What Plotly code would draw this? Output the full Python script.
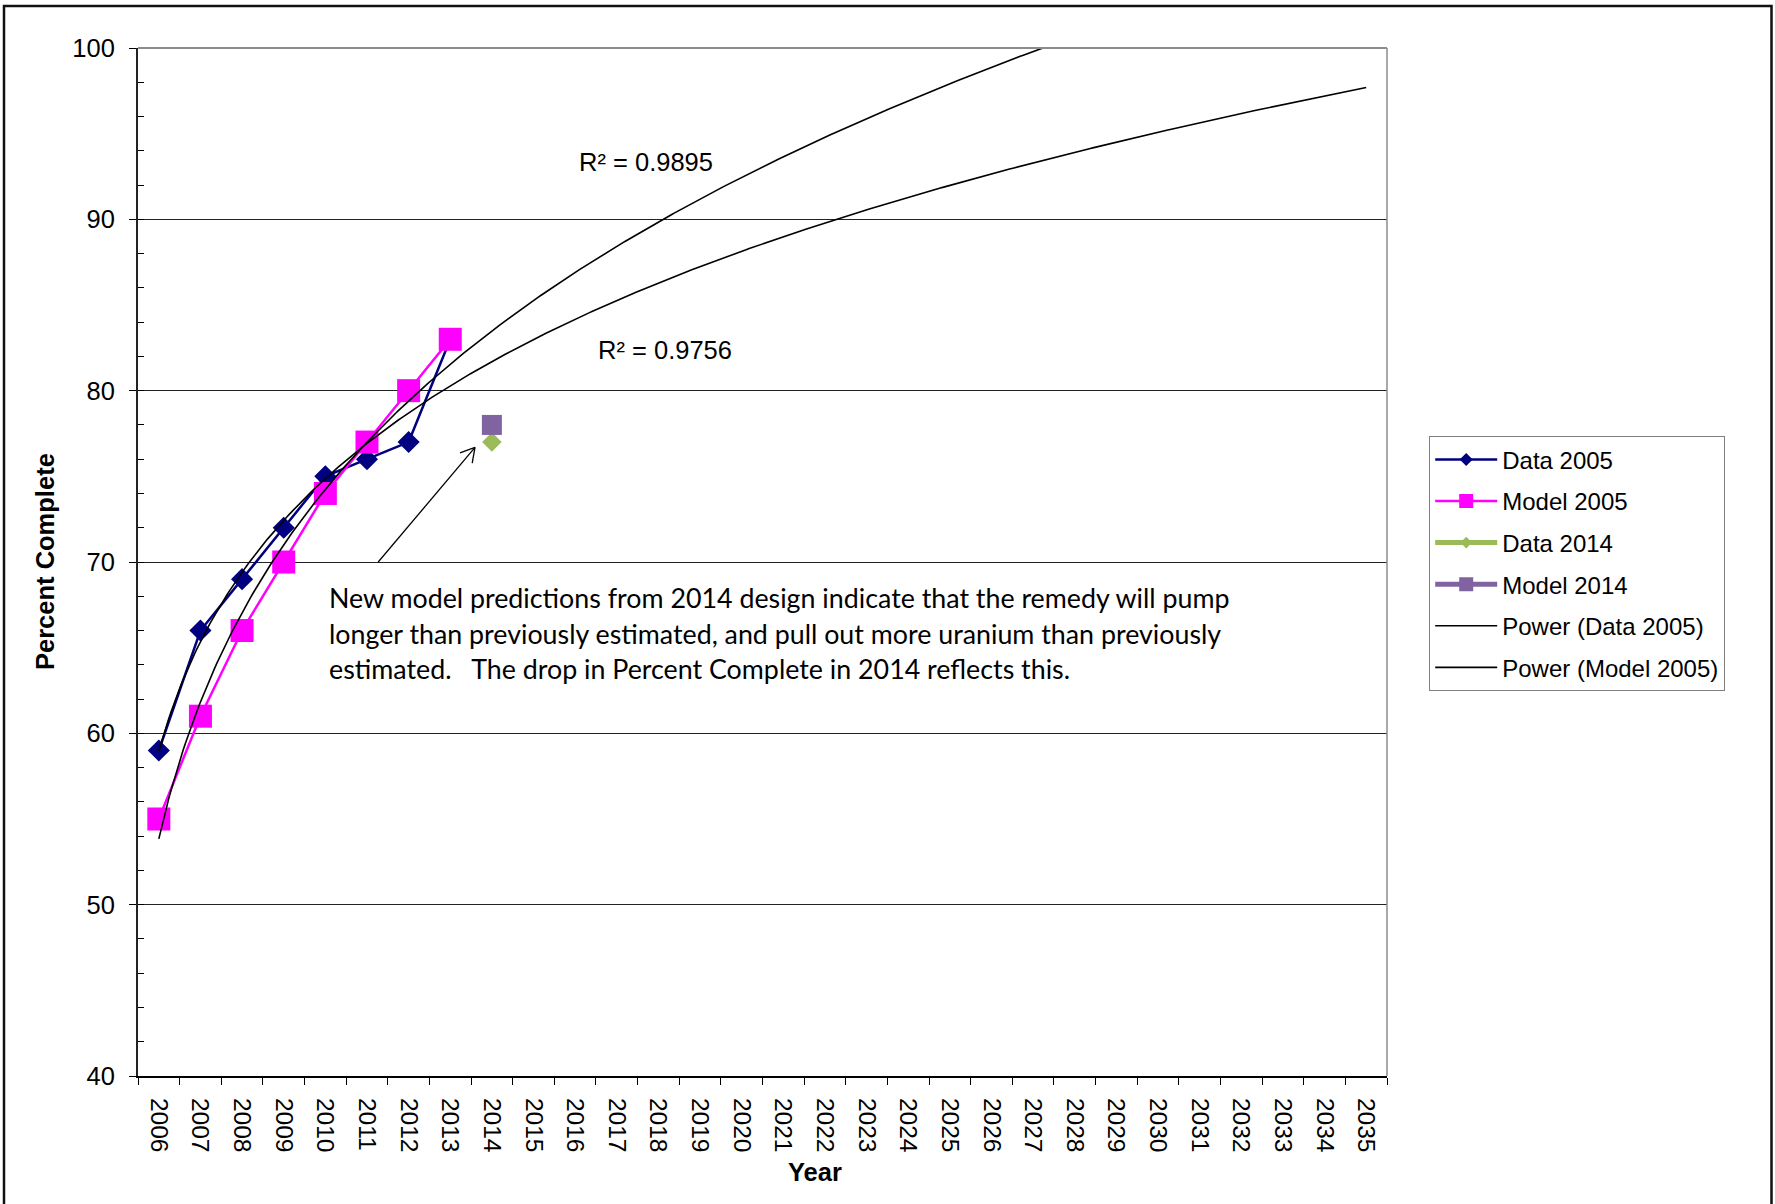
import math
import numpy as np
import plotly.graph_objects as go

# ---- data -------------------------------------------------------------
years_axis = list(range(2006, 2036))
years_2005 = [2006, 2007, 2008, 2009, 2010, 2011, 2012, 2013]
data_2005 = [59, 66, 69, 72, 75, 76, 77, 83]
model_2005 = [55, 61, 66, 70, 74, 77, 80, 83]
years_2014 = [2014]
data_2014 = [77]
model_2014 = [78]
r2_text = ["R\u00b2 = 0.9895", "R\u00b2 = 0.9756"]
note_lines = [
    "New model predictions from 2014 design indicate that the remedy will pump",
    "longer than previously estimated, and pull out more uranium than previously",
    "estimated.   The drop in Percent Complete in 2014 reflects this.",
]

# ---- geometry ---------------------------------------------------------
W, H = 1775, 1204
ML, MR, MT, MB = 138, 388, 47.5, 127.5
X0, X1 = 2005.5, 2035.5
Y0, Y1 = 40, 100
PW, PH = W - ML - MR, H - MT - MB
SX, SY = PW / (X1 - X0), PH / (Y1 - Y0)


def paper_x(px):
    return (px - ML) / PW


def paper_y(py):
    return (H - MB - py) / PH


# Power trendlines (least squares in log-log space, x = period index)
def power_fit(xs, ys):
    b, ln_a = np.polyfit(np.log(xs), np.log(ys), 1)
    return math.exp(ln_a), b


base = years_2005[0] - 1
idx = np.array(years_2005) - base
t = np.linspace(1, years_axis[-1] - base, 500)
a_d, b_d = power_fit(idx, data_2005)
a_m, b_m = power_fit(idx, model_2005)
trend_x = t + base
trend_data = a_d * t ** b_d
trend_model = a_m * t ** b_m

NAVY, MAGENTA, GREEN, PURPLE = "#000080", "#FF00FF", "#9BBB59", "#8064A2"
FONT = "Liberation Sans, Arial, sans-serif"

fig = go.Figure()

# plotted series (legend entries are drawn by the legend-only traces below)
fig.add_trace(go.Scatter(x=years_2005, y=data_2005, mode="lines+markers", showlegend=False,
                         line=dict(color=NAVY, width=2.5),
                         marker=dict(symbol="diamond", size=17, color=NAVY)))
fig.add_trace(go.Scatter(x=years_2005, y=model_2005, mode="lines+markers", showlegend=False,
                         line=dict(color=MAGENTA, width=2.5),
                         marker=dict(symbol="square", size=23, color=MAGENTA)))
fig.add_trace(go.Scatter(x=years_2014, y=data_2014, mode="markers", showlegend=False,
                         marker=dict(symbol="diamond", size=15, color=GREEN)))
fig.add_trace(go.Scatter(x=years_2014, y=model_2014, mode="markers", showlegend=False,
                         marker=dict(symbol="square", size=20, color=PURPLE)))
fig.add_trace(go.Scatter(x=trend_x, y=trend_data, mode="lines", showlegend=False,
                         line=dict(color="black", width=1.6)))
fig.add_trace(go.Scatter(x=trend_x, y=trend_model, mode="lines", showlegend=False,
                         line=dict(color="black", width=1.6)))

# legend entries
legend_items = [
    ("Data 2005", "lines+markers", NAVY, 2.5, "diamond", 10),
    ("Model 2005", "lines+markers", MAGENTA, 2.5, "square", 14),
    ("Data 2014", "lines+markers", GREEN, 5, "diamond", 9),
    ("Model 2014", "lines+markers", PURPLE, 5, "square", 14),
    ("Power (Data 2005)", "lines", "black", 1.6, None, 0),
    ("Power (Model 2005)", "lines", "black", 1.6, None, 0),
]
for i, (name, mode, col, lw, sym, ms) in enumerate(legend_items):
    kw = dict(symbol=sym, size=ms, color=col) if sym else dict()
    fig.add_trace(go.Scatter(x=[None], y=[None], name=name, mode=mode,
                             legendgroup=f"g{i}",
                             line=dict(color=col, width=lw), marker=kw))

# arrow from the note to the 2014 points
tail = (2011.27, 70.0)
tip = (2013.595, 76.69)
dxp = (tail[0] - tip[0]) * SX
dyp = -(tail[1] - tip[1]) * SY
ln = math.hypot(dxp, dyp)
ux, uy = dxp / ln, dyp / ln
shapes = [dict(type="line", xref="x", yref="y", x0=tail[0], y0=tail[1], x1=tip[0], y1=tip[1],
               line=dict(color="black", width=1.3))]
for ang in (math.radians(30), math.radians(-30)):
    rx = ux * math.cos(ang) - uy * math.sin(ang)
    ry = ux * math.sin(ang) + uy * math.cos(ang)
    hx = tip[0] + rx * 16 / SX
    hy = tip[1] - ry * 16 / SY
    shapes.append(dict(type="line", xref="x", yref="y", x0=tip[0], y0=tip[1], x1=hx, y1=hy,
                       line=dict(color="black", width=1.3)))

# plot-area border (top and right) and outer chart frame
shapes.append(dict(type="line", xref="paper", yref="paper", x0=0, x1=1, y0=1, y1=1,
                   line=dict(color="#8C8C8C", width=2), layer="above"))
shapes.append(dict(type="line", xref="paper", yref="paper", x0=1, x1=1, y0=0, y1=1,
                   line=dict(color="#8C8C8C", width=1.5), layer="above"))
shapes.append(dict(type="rect", xref="paper", yref="paper",
                   x0=paper_x(4), x1=paper_x(1771.5), y0=paper_y(1230), y1=paper_y(5.5),
                   line=dict(color="#111111", width=2.5)))

annotations = [
    dict(text=r2_text[0], x=2017.70, y=93.32, xref="x", yref="y", showarrow=False,
         font=dict(family=FONT, size=25.5, color="black")),
    dict(text=r2_text[1], x=2018.16, y=82.36, xref="x", yref="y", showarrow=False,
         font=dict(family=FONT, size=25.5, color="black")),
    dict(text="<b>Percent Complete</b>", x=paper_x(45), y=0.5, xref="paper", yref="paper",
         xanchor="center", yanchor="middle",
         textangle=-90, showarrow=False, font=dict(family=FONT, size=25.5, color="black")),
    dict(text="<b>Year</b>", x=paper_x(814.5), y=paper_y(1173), xref="paper", yref="paper",
         xanchor="center", yanchor="middle",
         showarrow=False, font=dict(family=FONT, size=25.5, color="black")),
]
for i, (line_text, yv) in enumerate(zip(note_lines, [67.92, 65.80, 63.76])):
    annotations.append(dict(text=line_text, x=2010.04, y=yv, xref="x", yref="y",
                            xanchor="left", yanchor="middle", showarrow=False,
                            font=dict(family="Lato, Carlito, sans-serif", size=26.8, color="black")))

fig.update_layout(
    width=W, height=H,
    margin=dict(l=ML, r=MR, t=MT, b=MB, pad=0),
    paper_bgcolor="white", plot_bgcolor="white",
    font=dict(family=FONT, size=24, color="black"),
    showlegend=True,
    legend=dict(x=paper_x(1429), y=paper_y(436), xanchor="left", yanchor="top",
                bgcolor="white", bordercolor="#808080", borderwidth=1.2,
                font=dict(family=FONT, size=24, color="black"),
                itemwidth=62,
                traceorder="grouped", tracegroupgap=7.4),
    shapes=shapes,
    annotations=annotations,
    xaxis=dict(range=[X0, X1], tickmode="array", tickvals=years_axis,
               ticktext=[str(y) for y in years_axis], tickangle=90, ticks="",
               ticklabelstandoff=15,
               showgrid=False, zeroline=False, showline=True, linecolor="black", linewidth=2,
               tickfont=dict(family=FONT, size=24.5, color="black"),
               minor=dict(tickmode="array", tickvals=[y - 0.5 for y in years_axis] + [years_axis[-1] + 0.5],
                          ticks="outside", ticklen=7, tickwidth=1.3, tickcolor="black",
                          showgrid=False)),
    yaxis=dict(range=[Y0, Y1], tickmode="linear", tick0=40, dtick=10,
               ticks="outside", ticklen=7, tickwidth=1.3, tickcolor="black",
               ticklabelstandoff=9,
               showgrid=True, gridcolor="#222222", gridwidth=1,
               zeroline=False, showline=True, linecolor="#222222", linewidth=2,
               tickfont=dict(family=FONT, size=25.5, color="black"),
               minor=dict(dtick=2, ticks="inside", ticklen=6, tickwidth=1.3,
                          tickcolor="black", showgrid=False)),
)

fig.write_html("out.html")
